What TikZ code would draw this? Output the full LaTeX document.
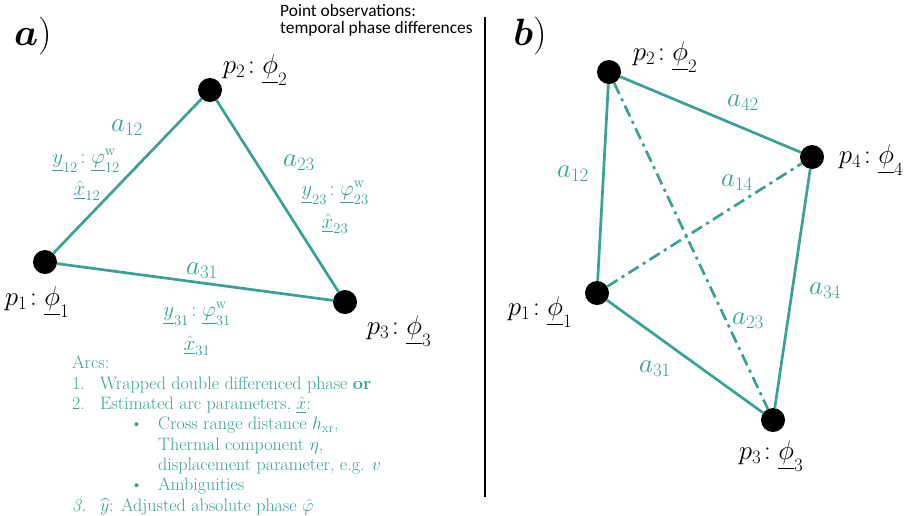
\RequirePackage{fix-cm}
\documentclass[tikz,border=0pt]{standalone}
\usepackage{fontspec}
\usepackage{amsmath}
\usepackage{amssymb}
\usepackage{bm}
\usepackage{tikz}
\usetikzlibrary{positioning, calc}
\newfontfamily\headfont{Carlito}
\definecolor{arcteal}{HTML}{3CA096}
\newcommand{\numitem}[1]{\makebox[28pt][l]{#1}}
\newcommand{\bulitem}{\hspace*{58pt}\makebox[28pt][l]{\textbullet}}
\newcommand{\subcont}{\hspace*{86pt}}

\begin{document}
\begin{tikzpicture}[x=1pt, y=-1pt,
    pnt/.style={circle, fill=black, inner sep=0pt, minimum size=24pt},
    arc/.style={draw=arcteal, line width=2.7pt},
    diagarc/.style={arc, dash pattern=on 12pt off 5pt on 3pt off 5pt},
    plab/.style={font=\fontsize{27}{30}\selectfont, inner sep=0pt},
    alab/.style={font=\fontsize{27}{30}\selectfont, color=arcteal, inner sep=0pt},
    obslab/.style={font=\fontsize{21}{24}\selectfont, color=arcteal, inner sep=0pt},
    listtxt/.style={font=\fontsize{18}{20.3}\selectfont, color=arcteal, align=left, inner sep=0pt},
]
\useasboundingbox (0,0) rectangle (912,515);

% panel a
\node[font=\fontsize{38}{40}\selectfont] (lbla) at (33,36) {$\bm{a}$)};
\node[font=\headfont\fontsize{17.4}{17}\selectfont, align=left, anchor=north west, inner sep=0pt] (obs) at (280,4) {Point observations:\\temporal phase differences};

\node[pnt] (a1) at (45,262) {};
\node[pnt] (a2) at (210,90) {};
\node[pnt] (a3) at (345,302) {};

\draw[arc] (a1) -- (a2);
\draw[arc] (a2) -- (a3);
\draw[arc] (a3) -- (a1);

\node[plab] (la1) at (37,302) {$p_1\!:\underline{\phi}_1$};
\node[plab] (la2) at (255,70) {$p_2\!:\underline{\phi}_2$};
\node[plab] (la3) at (399,331) {$p_3\!:\underline{\phi}_3$};

\node[alab] (a12) at (127,128) {$a_{12}$};
\node[alab] (a23) at (299,163) {$a_{23}$};
\node[alab] (a31) at (202,271) {$a_{31}$};

\node[obslab] (y12) at (86,161) {$\underline{y}_{12}\!:\underline{\varphi}_{12}^{\mathrm{w}}$};
\node[obslab] (x12) at (87,191) {$\underline{\hat{x}}_{12}$};
\node[obslab] (y23) at (335,193) {$\underline{y}_{23}\!:\underline{\varphi}_{23}^{\mathrm{w}}$};
\node[obslab] (x23) at (335,224) {$\underline{\hat{x}}_{23}$};
\node[obslab] (y31) at (197,314) {$\underline{y}_{31}\!:\underline{\varphi}_{31}^{\mathrm{w}}$};
\node[obslab] (x31) at (197,346) {$\underline{\hat{x}}_{31}$};

% list of arc quantities
\node[listtxt, anchor=north west] (arclist) at (72,356) {%
  Arcs:\\
  \numitem{1.}Wrapped double differenced phase \textbf{or}\\
  \numitem{2.}Estimated arc parameters, $\underline{\hat{x}}$:\\
  \bulitem Cross range distance $h_{\mathrm{xr}}$,\\
  \subcont Thermal component $\eta$,\\
  \subcont displacement parameter, e.g. $v$\\
  \bulitem Ambiguities\\
  \numitem{\textit{3.}}$\underline{\widehat{y}}$: Adjusted absolute phase $\hat{\varphi}$};

% divider
\coordinate (divtop) at (485,17);
\coordinate (divbot) at (485,497);
\draw[line width=2pt] (divtop) -- (divbot);

% panel b
\node[font=\fontsize{38}{40}\selectfont] (lblb) at (530,36) {$\bm{b}$)};

\node[pnt] (b1p) at (597,293) {};
\node[pnt] (b2p) at (609,72) {};
\node[pnt] (b3p) at (773,420) {};
\node[pnt] (b4p) at (812,157) {};

\draw[arc] (b2p) -- (b4p);
\draw[arc] (b2p) -- (b1p);
\draw[arc] (b4p) -- (b3p);
\draw[arc] (b1p) -- (b3p);
\draw[diagarc] (b2p) -- (b3p);
\draw[diagarc] (b1p) -- (b4p);

\node[plab] (lb1) at (540,312) {$p_1\!:\underline{\phi}_1$};
\node[plab] (lb2) at (665,57) {$p_2\!:\underline{\phi}_2$};
\node[plab] (lb3) at (771,456) {$p_3\!:\underline{\phi}_3$};
\node[plab] (lb4) at (871,160) {$p_4\!:\underline{\phi}_4$};

\node[alab] (b42) at (743,103) {$a_{42}$};
\node[alab] (b12) at (573,174) {$a_{12}$};
\node[alab] (b14) at (737,183) {$a_{14}$};
\node[alab] (b34) at (825,291) {$a_{34}$};
\node[alab] (b23) at (748,321) {$a_{23}$};
\node[alab] (b31) at (655,369) {$a_{31}$};
\end{tikzpicture}
\end{document}
